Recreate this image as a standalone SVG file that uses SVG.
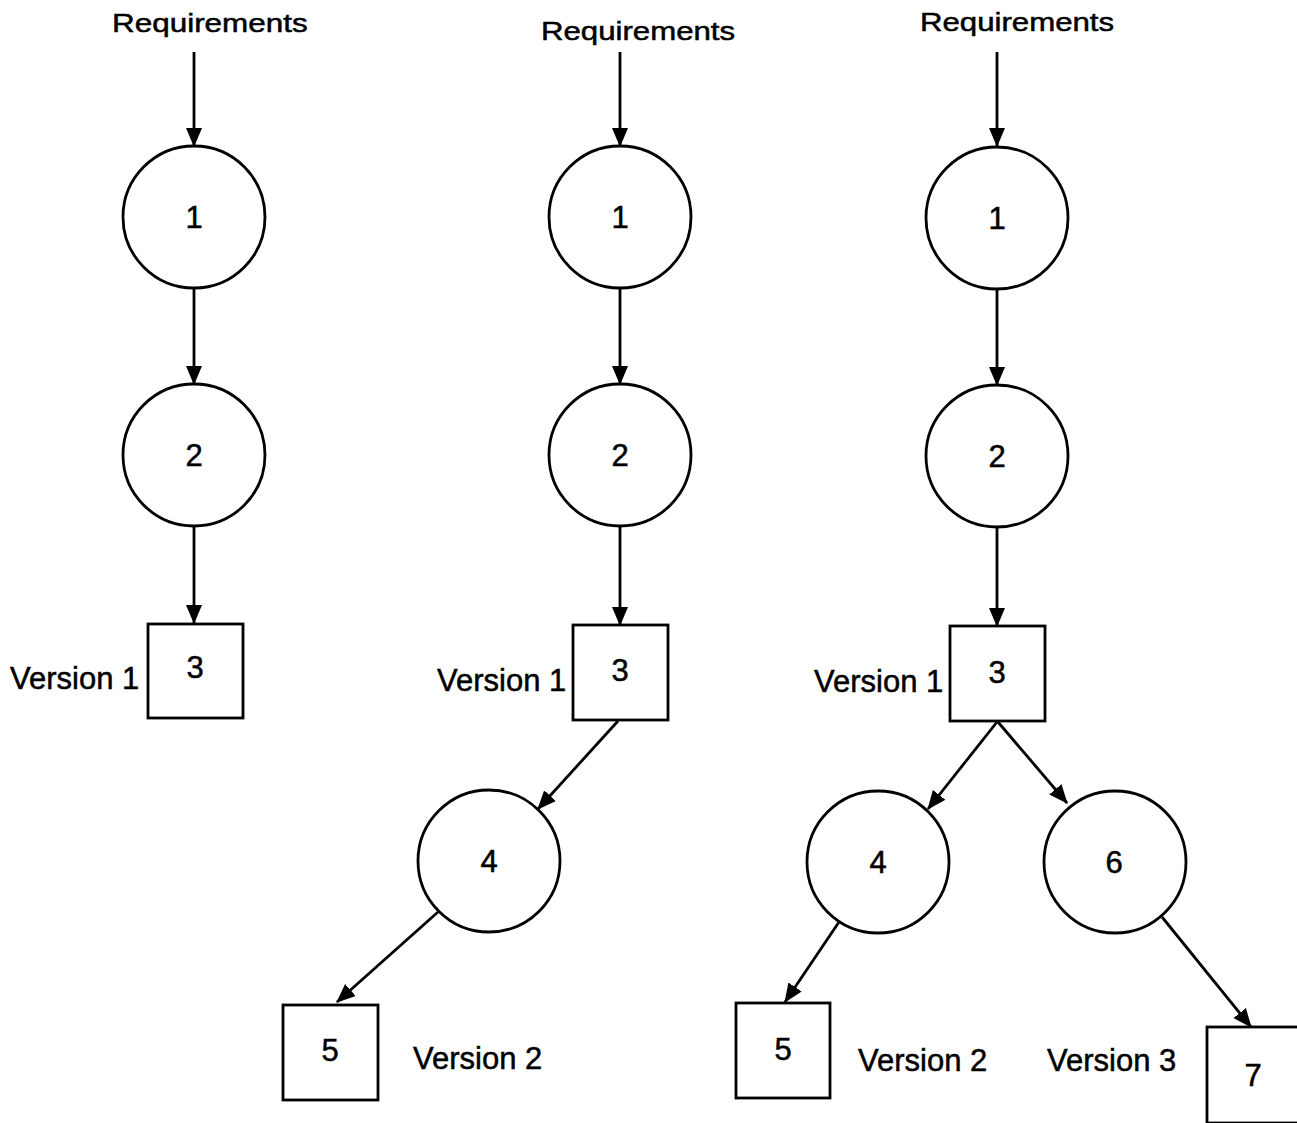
<svg xmlns="http://www.w3.org/2000/svg" width="1297" height="1123" viewBox="0 0 1297 1123">
  <style>
    .node { fill: #fff; stroke: #000; stroke-width: 2.8; }
    .edge { stroke: #000; stroke-width: 2.8; fill: none; marker-end: url(#head); }
    .lbl { font-family: "Liberation Sans", Arial, sans-serif; font-size: 31px; fill: #000; stroke: #000; stroke-width: 0.5; }
    .num { text-anchor: middle; }
    .req { font-size: 26px; }
  </style>
  <defs>
    <marker id="head" markerUnits="userSpaceOnUse" markerWidth="19" markerHeight="18" viewBox="0 0 19 18" refX="18" refY="9" orient="auto">
      <path d="M0,1 L19,9 L0,17 z" fill="#000"/>
    </marker>
  </defs>
  <rect width="1297" height="1123" fill="#fff"/>

  <!-- connectors -->
  <g id="connectors">
    <!-- version 1 chain -->
    <line class="edge" x1="194" y1="52" x2="194" y2="146"/>
    <line class="edge" x1="194" y1="288" x2="194" y2="384"/>
    <line class="edge" x1="194" y1="526" x2="194" y2="623"/>
    <!-- version 2 chain -->
    <line class="edge" x1="620" y1="52" x2="620" y2="146"/>
    <line class="edge" x1="620" y1="288" x2="620" y2="384"/>
    <line class="edge" x1="620" y1="526" x2="620" y2="625"/>
    <line class="edge" x1="618" y1="721" x2="538" y2="809"/>
    <line class="edge" x1="438" y1="912" x2="337" y2="1002"/>
    <!-- version 3 chain -->
    <line class="edge" x1="997" y1="52" x2="997" y2="146"/>
    <line class="edge" x1="997" y1="289" x2="997" y2="385"/>
    <line class="edge" x1="997" y1="527" x2="997" y2="626"/>
    <line class="edge" x1="997" y1="722" x2="928" y2="809"/>
    <line class="edge" x1="998" y1="722" x2="1067" y2="803"/>
    <line class="edge" x1="839" y1="922" x2="785" y2="1002"/>
    <line class="edge" x1="1162" y1="917" x2="1251" y2="1027"/>
  </g>

  <!-- version 1 column -->
  <g id="req-a"><text class="lbl req" transform="translate(112 32) scale(1.21 1)">Requirements</text></g>
  <g id="a1"><circle class="node" cx="194" cy="217" r="71"/><text class="lbl num" x="194" y="228">1</text></g>
  <g id="a2"><circle class="node" cx="194" cy="455" r="71"/><text class="lbl num" x="194" y="466">2</text></g>
  <g id="a3"><rect class="node" x="148" y="624" width="95" height="94"/><text class="lbl num" x="195" y="678">3</text></g>
  <g id="a-v1"><text class="lbl" x="10" y="689">Version 1</text></g>

  <!-- version 2 column -->
  <g id="req-b"><text class="lbl req" transform="translate(541 40) scale(1.2 1)">Requirements</text></g>
  <g id="b1"><circle class="node" cx="620" cy="217" r="71"/><text class="lbl num" x="620" y="228">1</text></g>
  <g id="b2"><circle class="node" cx="620" cy="455" r="71"/><text class="lbl num" x="620" y="466">2</text></g>
  <g id="b3"><rect class="node" x="573" y="625" width="95" height="95"/><text class="lbl num" x="620" y="681">3</text></g>
  <g id="b-v1"><text class="lbl" x="437" y="691">Version 1</text></g>
  <g id="b4"><circle class="node" cx="489" cy="861" r="71"/><text class="lbl num" x="489" y="872">4</text></g>
  <g id="b5"><rect class="node" x="283" y="1005" width="95" height="95"/><text class="lbl num" x="330" y="1061">5</text></g>
  <g id="b-v2"><text class="lbl" x="413" y="1069">Version 2</text></g>

  <!-- version 3 column -->
  <g id="req-c"><text class="lbl req" transform="translate(920 31) scale(1.2 1)">Requirements</text></g>
  <g id="c1"><circle class="node" cx="997" cy="218" r="71"/><text class="lbl num" x="997" y="229">1</text></g>
  <g id="c2"><circle class="node" cx="997" cy="456" r="71"/><text class="lbl num" x="997" y="467">2</text></g>
  <g id="c3"><rect class="node" x="950" y="626" width="95" height="95"/><text class="lbl num" x="997" y="683">3</text></g>
  <g id="c-v1"><text class="lbl" x="814" y="692">Version 1</text></g>
  <g id="c4"><circle class="node" cx="878" cy="862" r="71"/><text class="lbl num" x="878" y="873">4</text></g>
  <g id="c6"><circle class="node" cx="1115" cy="862" r="71"/><text class="lbl num" x="1114" y="873">6</text></g>
  <g id="c5"><rect class="node" x="736" y="1003" width="94" height="95"/><text class="lbl num" x="783" y="1060">5</text></g>
  <g id="c-v2"><text class="lbl" x="858" y="1071">Version 2</text></g>
  <g id="c-v3"><text class="lbl" x="1047" y="1071">Version 3</text></g>
  <g id="c7"><rect class="node" x="1207" y="1027" width="96" height="96"/><text class="lbl num" x="1253" y="1086">7</text></g>
</svg>
